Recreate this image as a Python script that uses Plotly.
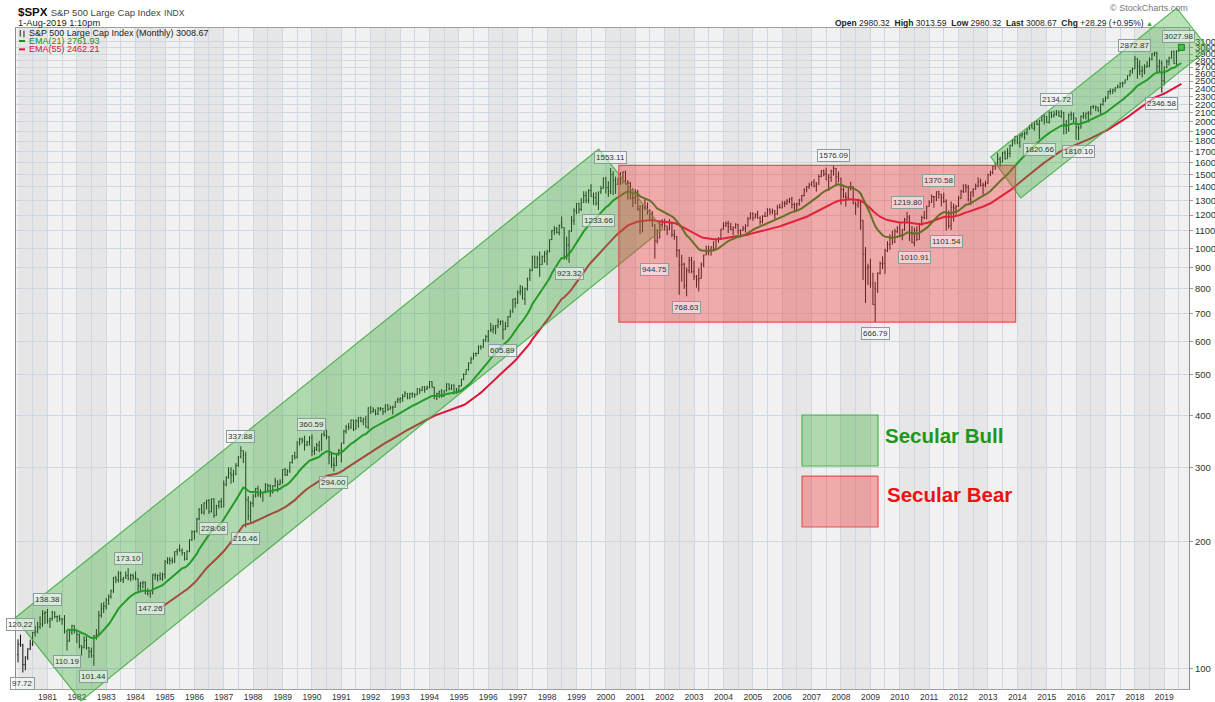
import numpy as np
import pandas as pd
import plotly.graph_objects as go

# ---------------- data (monthly, Jan 1980 .. Aug 2019) ----------------
start_month = "1980-01-01"
first_open = 107.9
last_open = 2980.32

closes = [
    114.2, 113.7, 102.1, 106.3, 111.2, 114.2, 121.7, 122.4, 125.5, 127.5, 135.0, 135.8,
    129.6, 131.3, 136.0, 132.8, 132.6, 131.2, 130.9, 122.8, 116.2, 121.9, 126.4, 122.6,
    120.4, 113.1, 112.0, 116.4, 111.9, 109.6, 107.1, 119.5, 120.4, 133.7, 138.5, 140.6,
    145.3, 148.1, 153.0, 164.4, 162.4, 168.1, 162.6, 164.4, 166.1, 163.6, 166.4, 164.9,
    163.4, 157.1, 159.2, 160.1, 150.6, 153.2, 150.7, 166.7, 166.1, 166.1, 163.6, 167.2,
    179.6, 181.2, 180.7, 179.8, 189.6, 191.9, 190.9, 188.6, 182.1, 189.8, 202.2, 211.3,
    211.8, 226.9, 238.9, 235.5, 247.4, 250.8, 236.1, 252.9, 231.3, 244.0, 249.2, 242.2,
    274.1, 284.2, 291.7, 288.4, 290.1, 304.0, 318.7, 329.8, 321.8, 251.8, 230.3, 247.1,
    257.1, 267.8, 258.9, 261.3, 262.2, 273.5, 272.0, 261.5, 271.9, 279.0, 273.7, 277.7,
    297.5, 288.9, 294.9, 309.6, 320.5, 318.0, 346.1, 351.5, 349.2, 340.4, 346.0, 353.4,
    329.1, 331.9, 339.9, 330.8, 361.2, 358.0, 356.2, 322.6, 306.1, 304.0, 322.2, 330.2,
    343.9, 367.1, 375.2, 375.4, 389.8, 371.2, 387.8, 395.4, 387.9, 392.5, 375.2, 417.1,
    408.8, 412.7, 403.7, 415.0, 415.4, 408.1, 424.2, 414.0, 417.8, 418.7, 431.4, 435.7,
    438.8, 443.4, 451.7, 440.2, 450.2, 450.5, 448.1, 463.6, 458.9, 467.8, 461.8, 466.5,
    481.6, 467.1, 445.8, 450.9, 456.5, 444.3, 458.3, 475.5, 462.7, 472.4, 453.7, 459.3,
    470.4, 487.4, 500.7, 514.7, 533.4, 544.8, 562.1, 561.9, 584.4, 581.5, 605.4, 615.9,
    636.0, 640.4, 645.5, 654.2, 669.1, 670.6, 640.0, 652.0, 687.3, 705.3, 757.0, 740.7,
    786.2, 790.8, 757.1, 801.3, 848.3, 885.1, 954.3, 899.5, 947.3, 914.6, 955.4, 970.4,
    980.3, 1049.3, 1101.8, 1111.8, 1090.8, 1133.8, 1120.7, 957.3, 1017.0, 1098.7, 1163.6, 1229.2,
    1279.6, 1238.3, 1286.4, 1335.2, 1301.8, 1372.7, 1328.7, 1320.4, 1282.7, 1362.9, 1388.9, 1469.3,
    1394.5, 1366.4, 1498.6, 1452.4, 1420.6, 1454.6, 1430.8, 1517.7, 1436.5, 1429.4, 1315.0, 1320.3,
    1366.0, 1239.9, 1160.3, 1249.5, 1255.8, 1224.4, 1211.2, 1133.6, 1040.9, 1059.8, 1139.5, 1148.1,
    1130.2, 1106.7, 1147.4, 1076.9, 1067.1, 989.8, 911.6, 916.1, 815.3, 885.8, 936.3, 879.8,
    855.7, 841.2, 848.2, 916.9, 963.6, 974.5, 990.3, 1008.0, 996.0, 1050.7, 1058.2, 1111.9,
    1131.1, 1144.9, 1126.2, 1107.3, 1120.7, 1140.8, 1101.7, 1104.2, 1114.6, 1130.2, 1173.8, 1211.9,
    1181.3, 1203.6, 1180.6, 1156.9, 1191.5, 1191.3, 1234.2, 1220.3, 1228.8, 1207.0, 1249.5, 1248.3,
    1280.1, 1280.7, 1294.8, 1310.6, 1270.1, 1270.2, 1276.7, 1303.8, 1335.9, 1377.9, 1400.6, 1418.3,
    1438.2, 1406.8, 1420.9, 1482.4, 1530.6, 1503.4, 1455.3, 1474.0, 1526.8, 1549.4, 1481.1, 1468.4,
    1378.6, 1330.6, 1322.7, 1385.6, 1400.4, 1280.0, 1267.4, 1282.8, 1166.4, 968.8, 896.2, 903.3,
    825.9, 735.1, 797.9, 872.8, 919.1, 919.3, 987.5, 1020.6, 1057.1, 1036.2, 1095.6, 1115.1,
    1073.9, 1104.5, 1169.4, 1186.7, 1089.4, 1030.7, 1101.6, 1049.3, 1141.2, 1183.3, 1180.6, 1257.6,
    1286.1, 1327.2, 1325.8, 1363.6, 1345.2, 1320.6, 1292.3, 1218.9, 1131.4, 1253.3, 1247.0, 1257.6,
    1312.4, 1365.7, 1408.5, 1397.9, 1310.3, 1362.2, 1379.3, 1406.6, 1440.7, 1412.2, 1416.2, 1426.2,
    1498.1, 1514.7, 1569.2, 1597.6, 1630.7, 1606.3, 1685.7, 1633.0, 1681.6, 1756.5, 1805.8, 1848.4,
    1782.6, 1859.5, 1872.3, 1884.0, 1923.6, 1960.2, 1930.7, 2003.4, 1972.3, 2018.1, 2067.6, 2058.9,
    1995.0, 2104.5, 2067.9, 2085.5, 2107.4, 2063.1, 2103.8, 1972.2, 1920.0, 2079.4, 2080.4, 2043.9,
    1940.2, 1932.2, 2059.7, 2065.3, 2097.0, 2098.9, 2173.6, 2171.0, 2168.3, 2126.2, 2198.8, 2238.8,
    2278.9, 2363.6, 2362.7, 2384.2, 2411.8, 2423.4, 2470.3, 2471.7, 2519.4, 2575.3, 2647.6, 2673.6,
    2823.8, 2713.8, 2640.9, 2648.1, 2705.3, 2718.4, 2816.3, 2901.5, 2914.0, 2711.7, 2760.2, 2506.9,
    2704.1, 2784.5, 2834.4, 2945.8, 2752.1, 2941.8, 2980.4, 3008.7,
]

highs = [
    117.2, 120.2, 114.3, 106.8, 111.6, 117.0, 122.0, 126.0, 129.0, 133.0, 137.5, 137.0,
    138.4, 132.0, 137.0, 136.5, 133.5, 134.0, 131.5, 133.9, 123.0, 123.5, 127.0, 126.5,
    122.6, 121.0, 113.5, 119.3, 119.0, 112.3, 112.0, 120.0, 124.0, 137.0, 143.0, 143.7,
    147.0, 150.0, 154.0, 165.0, 166.0, 170.5, 170.0, 165.0, 170.0, 173.1, 168.0, 168.0,
    170.0, 163.5, 160.5, 161.5, 161.0, 155.0, 153.5, 168.0, 168.5, 167.5, 169.2, 169.0,
    181.0, 183.9, 184.0, 183.5, 190.0, 192.5, 197.0, 193.0, 189.0, 191.0, 203.0, 213.0,
    213.0, 228.0, 240.5, 246.0, 248.5, 252.0, 253.0, 254.0, 254.0, 245.0, 251.0, 254.0,
    280.0, 287.0, 301.0, 301.0, 297.0, 308.0, 320.0, 337.9, 330.0, 328.0, 257.0, 250.0,
    260.0, 269.0, 272.0, 267.0, 263.0, 276.0, 275.0, 274.0, 273.0, 284.0, 280.0, 282.0,
    298.0, 300.0, 298.0, 310.0, 322.0, 328.0, 347.0, 354.0, 354.0, 358.0, 348.0, 357.0,
    360.6, 337.0, 344.0, 348.0, 362.0, 367.0, 369.8, 357.0, 325.0, 318.0, 324.0, 333.0,
    344.0, 370.0, 380.0, 384.0, 391.0, 391.0, 392.0, 397.0, 397.0, 395.0, 399.0, 418.0,
    421.0, 418.0, 413.0, 419.0, 419.0, 417.0, 425.0, 425.0, 422.0, 422.0, 432.0, 441.0,
    442.0, 450.0, 457.0, 452.0, 453.0, 454.0, 451.0, 464.0, 464.0, 469.0, 470.0, 471.0,
    483.0, 482.0, 468.0, 453.0, 458.0, 462.0, 459.0, 477.0, 476.0, 474.0, 474.0, 465.0,
    472.0, 489.0, 504.0, 515.0, 535.0, 552.0, 564.0, 564.0, 587.0, 588.0, 608.0, 622.0,
    638.0, 665.0, 657.0, 657.0, 681.0, 673.0, 673.0, 668.0, 690.0, 714.0, 758.0, 762.0,
    794.0, 818.0, 814.0, 806.0, 851.0, 896.0, 961.0, 961.0, 960.0, 983.0, 962.0, 986.0,
    992.0, 1051.0, 1106.0, 1130.0, 1123.0, 1139.0, 1190.0, 1122.0, 1066.0, 1104.0, 1193.0, 1245.0,
    1280.0, 1283.0, 1317.0, 1367.0, 1367.0, 1383.0, 1421.0, 1357.0, 1361.0, 1364.0, 1408.0, 1474.0,
    1478.0, 1444.0, 1553.1, 1527.0, 1481.0, 1474.0, 1517.0, 1525.0, 1531.0, 1454.0, 1438.0, 1390.0,
    1384.0, 1377.0, 1267.0, 1269.0, 1316.0, 1286.0, 1239.0, 1226.0, 1142.0, 1111.0, 1163.0, 1173.0,
    1176.0, 1131.0, 1173.0, 1148.0, 1107.0, 1070.0, 994.0, 965.0, 924.0, 900.0, 954.0, 954.0,
    935.0, 864.0, 896.0, 925.0, 966.0, 1015.0, 1015.0, 1011.0, 1040.0, 1054.0, 1063.0, 1112.0,
    1155.0, 1159.0, 1163.0, 1150.0, 1128.0, 1147.0, 1141.0, 1108.0, 1131.0, 1141.0, 1188.0, 1218.0,
    1217.0, 1212.0, 1229.0, 1192.0, 1199.0, 1219.0, 1246.0, 1245.0, 1243.0, 1233.0, 1270.0, 1276.0,
    1295.0, 1297.0, 1310.0, 1318.0, 1326.0, 1285.0, 1283.0, 1312.0, 1340.0, 1390.0, 1407.0, 1432.0,
    1441.0, 1461.0, 1438.0, 1499.0, 1535.0, 1541.0, 1556.0, 1503.0, 1539.0, 1576.1, 1553.0, 1523.0,
    1471.0, 1396.0, 1359.0, 1397.0, 1440.0, 1405.0, 1292.0, 1313.0, 1303.0, 1167.0, 1007.0, 919.0,
    944.0, 875.0, 832.0, 876.0, 930.0, 957.0, 997.0, 1040.0, 1080.0, 1102.0, 1113.0, 1130.0,
    1150.0, 1112.0, 1181.0, 1219.8, 1200.0, 1131.0, 1120.0, 1129.0, 1150.0, 1196.0, 1227.0, 1263.0,
    1302.0, 1344.0, 1332.0, 1367.0, 1370.6, 1346.0, 1357.0, 1308.0, 1230.0, 1293.0, 1277.0, 1269.0,
    1333.0, 1378.0, 1420.0, 1422.0, 1415.0, 1364.0, 1392.0, 1426.0, 1475.0, 1465.0, 1434.0, 1448.0,
    1504.0, 1530.0, 1570.0, 1598.0, 1688.0, 1654.0, 1698.0, 1710.0, 1730.0, 1765.0, 1814.0, 1849.0,
    1850.0, 1868.0, 1884.0, 1897.0, 1925.0, 1968.0, 1992.0, 2006.0, 2019.0, 2019.0, 2075.0, 2093.0,
    2065.0, 2120.0, 2118.0, 2126.0, 2134.7, 2130.0, 2133.0, 2113.0, 2021.0, 2094.0, 2117.0, 2104.0,
    2044.0, 1962.0, 2073.0, 2111.0, 2103.0, 2121.0, 2178.0, 2194.0, 2188.0, 2170.0, 2214.0, 2278.0,
    2301.0, 2372.0, 2401.0, 2399.0, 2419.0, 2454.0, 2484.0, 2491.0, 2520.0, 2582.0, 2657.0, 2695.0,
    2872.9, 2836.0, 2801.0, 2718.0, 2743.0, 2791.0, 2848.0, 2917.0, 2941.0, 2940.0, 2815.0, 2800.0,
    2708.0, 2814.0, 2861.0, 2950.0, 2954.0, 2964.0, 3028.0, 3013.6,
]

lows = [
    103.3, 112.5, 97.7, 98.9, 104.7, 110.5, 113.0, 119.0, 121.0, 124.0, 125.5, 127.5,
    127.8, 124.7, 129.7, 131.5, 128.8, 129.2, 127.0, 121.0, 110.2, 115.5, 120.0, 121.0,
    114.8, 111.5, 107.3, 111.5, 110.8, 105.8, 106.0, 101.4, 117.0, 120.0, 132.0, 135.3,
    138.0, 141.5, 146.5, 151.0, 159.5, 160.0, 160.5, 159.5, 163.0, 162.0, 161.0, 162.0,
    162.0, 152.5, 153.5, 155.0, 150.0, 149.0, 147.3, 150.0, 162.5, 161.0, 162.0, 161.5,
    163.4, 177.0, 176.5, 177.5, 178.0, 185.5, 189.5, 185.5, 180.5, 181.0, 189.0, 201.0,
    202.5, 210.5, 225.0, 233.0, 232.0, 239.0, 233.0, 235.0, 228.1, 231.0, 240.0, 241.0,
    242.0, 271.0, 283.0, 275.0, 277.0, 288.0, 302.0, 316.0, 308.0, 216.5, 225.0, 223.0,
    242.0, 255.0, 256.0, 255.0, 249.0, 261.0, 263.0, 256.0, 261.0, 270.0, 263.0, 273.0,
    275.0, 287.0, 287.0, 292.0, 307.0, 314.0, 316.0, 339.0, 343.0, 330.0, 338.0, 339.0,
    320.0, 322.0, 329.0, 327.0, 330.0, 357.0, 351.0, 306.0, 300.0, 294.0, 303.0, 321.0,
    309.0, 342.0, 362.0, 369.0, 371.0, 367.0, 370.0, 374.0, 385.0, 379.0, 374.0, 371.0,
    403.0, 406.0, 400.0, 401.0, 410.0, 401.0, 406.0, 410.0, 413.0, 402.0, 417.0, 428.0,
    428.0, 431.0, 443.0, 437.0, 437.0, 441.0, 441.0, 447.0, 450.0, 457.0, 453.0, 460.0,
    464.0, 466.0, 437.0, 435.0, 440.0, 441.0, 444.0, 456.0, 459.0, 460.0, 449.0, 450.0,
    457.0, 469.0, 485.0, 500.0, 511.0, 531.0, 544.0, 552.0, 560.0, 573.0, 580.0, 598.0,
    597.0, 632.0, 627.0, 624.0, 645.0, 656.0, 605.9, 639.0, 649.0, 684.0, 703.0, 722.0,
    737.0, 773.0, 756.0, 733.0, 793.0, 836.0, 882.0, 896.0, 897.0, 855.0, 913.0, 924.0,
    912.0, 979.0, 1045.0, 1076.0, 1085.0, 1074.0, 1114.0, 939.0, 939.0, 923.3, 1094.0, 1136.0,
    1205.0, 1211.0, 1226.0, 1282.0, 1281.0, 1279.0, 1326.0, 1268.0, 1263.0, 1233.7, 1348.0, 1387.0,
    1350.0, 1325.0, 1346.0, 1339.0, 1348.0, 1420.0, 1416.0, 1430.0, 1419.0, 1305.0, 1308.0, 1254.0,
    1275.0, 1228.0, 1081.0, 1091.0, 1232.0, 1203.0, 1165.0, 1124.0, 944.8, 1026.0, 1055.0, 1124.0,
    1101.0, 1075.0, 1106.0, 1063.0, 1048.0, 952.0, 775.0, 833.0, 800.0, 768.6, 872.0, 872.0,
    840.0, 806.0, 789.0, 847.0, 902.0, 963.0, 962.0, 960.0, 990.0, 994.0, 1031.0, 1055.0,
    1106.0, 1124.0, 1087.0, 1105.0, 1076.0, 1113.0, 1078.0, 1060.0, 1099.0, 1090.0, 1127.0, 1173.0,
    1163.0, 1180.0, 1176.0, 1137.0, 1146.0, 1188.0, 1191.0, 1201.0, 1205.0, 1168.0, 1201.0, 1245.0,
    1245.0, 1253.0, 1268.0, 1280.0, 1245.0, 1219.0, 1224.0, 1262.0, 1290.0, 1327.0, 1360.0, 1385.0,
    1403.0, 1396.0, 1364.0, 1416.0, 1476.0, 1484.0, 1454.0, 1370.0, 1439.0, 1489.0, 1406.0, 1435.0,
    1270.0, 1317.0, 1257.0, 1312.0, 1373.0, 1272.0, 1200.0, 1249.0, 1107.0, 840.0, 741.0, 818.0,
    805.0, 734.0, 666.8, 783.0, 866.0, 892.0, 869.0, 979.0, 992.0, 1020.0, 1029.0, 1086.0,
    1071.0, 1045.0, 1101.0, 1160.0, 1040.0, 1028.0, 1010.9, 1040.0, 1049.0, 1131.0, 1173.0, 1173.0,
    1256.0, 1283.0, 1249.0, 1294.0, 1312.0, 1258.0, 1283.0, 1101.5, 1114.0, 1105.0, 1158.0, 1202.0,
    1254.0, 1312.0, 1354.0, 1358.0, 1292.0, 1267.0, 1325.0, 1378.0, 1396.0, 1403.0, 1343.0, 1398.0,
    1426.0, 1485.0, 1501.0, 1536.0, 1581.0, 1560.0, 1604.0, 1627.0, 1633.0, 1646.0, 1746.0, 1767.0,
    1770.0, 1737.0, 1834.0, 1815.0, 1860.0, 1915.0, 1930.0, 1905.0, 1964.0, 1820.7, 2001.0, 1972.0,
    1988.0, 1981.0, 2039.0, 2048.0, 2067.0, 2056.0, 2044.0, 1867.0, 1872.0, 1893.0, 2019.0, 1993.0,
    1812.0, 1810.1, 1931.0, 2034.0, 2026.0, 1992.0, 2074.0, 2147.0, 2120.0, 2115.0, 2084.0, 2187.0,
    2234.0, 2271.0, 2322.0, 2329.0, 2353.0, 2405.0, 2407.0, 2417.0, 2468.0, 2515.0, 2566.0, 2605.0,
    2672.0, 2533.0, 2585.0, 2553.0, 2595.0, 2692.0, 2699.0, 2803.0, 2865.0, 2604.0, 2631.0, 2346.6,
    2443.0, 2681.0, 2722.0, 2832.0, 2750.0, 2728.0, 2940.0, 2980.3,
]

# swing-point labels
label_months = ["1980-02", "1980-03", "1981-01", "1981-09", "1982-08", "1983-10", "1984-07",
                "1986-09", "1987-08", "1987-10", "1990-01", "1990-10", "1996-07", "1998-10",
                "1999-10", "2000-03", "2001-09", "2002-10", "2007-10", "2009-03", "2010-04",
                "2010-07", "2011-05", "2011-08", "2014-10", "2015-05", "2016-02", "2018-01",
                "2018-12", "2019-07"]
label_values = [120.22, 97.72, 138.38, 110.19, 101.44, 173.10, 147.26, 228.08, 337.88, 216.46,
                360.59, 294.00, 605.89, 923.32, 1233.66, 1553.11, 944.75, 768.63, 1576.09, 666.79,
                1219.80, 1010.91, 1370.58, 1101.54, 1820.66, 2134.72, 1810.10, 2872.87, 2346.58,
                3027.98]
label_sides = ["high", "low", "high", "low", "low", "high", "low", "low", "high", "low",
               "high", "low", "low", "low", "low", "high", "low", "low", "high", "low",
               "high", "low", "high", "low", "low", "high", "low", "high", "low", "high"]

y_ticks = [100, 200, 300, 400, 500, 600, 700, 800, 900, 1000, 1100, 1200, 1300, 1400, 1500,
           1600, 1700, 1800, 1900, 2000, 2100, 2200, 2300, 2400, 2500, 2600, 2700, 2800, 2900,
           3000, 3100]
x_tick_years = list(range(1981, 2020))

# drawn channels (date, price corners)
bull_channel_1_dates = ["1979-11-24", "1999-10-04", "2001-12-10", "1982-02-22"]
bull_channel_1_prices = [131.8, 1723.0, 1112.0, 83.6]
bull_channel_2_dates = ["2013-02-04", "2019-06-04", "2020-07-04", "2014-02-12"]
bull_channel_2_prices = [1650.0, 3734.0, 2982.0, 1318.0]
bear_box_dates = ["2000-06-10", "2013-12-10"]
bear_box_prices = [666.79, 1576.09]

# ---------------- derived ----------------
dates = pd.date_range(start_month, periods=len(closes), freq="MS")
opens = [first_open] + closes[:-1]
opens[-1] = last_open


def ema(values, n):
    out = [None] * len(values)
    a = 2.0 / (n + 1)
    e = float(np.mean(values[:n]))
    out[n - 1] = e
    for i in range(n, len(values)):
        e = a * values[i] + (1 - a) * e
        out[i] = e
    return out


ema21 = ema(closes, 21)
ema55 = ema(closes, 55)
ema21_start, ema55_start = 20, 58

X0 = pd.Timestamp("1979-12-07")
X1 = pd.Timestamp("2019-11-04")
Y0, Y1 = 1.9507, 3.5245


def px(d):
    return (pd.Timestamp(d) - X0) / (X1 - X0)


def py(v):
    return (np.log10(v) - Y0) / (Y1 - Y0)


def poly_path(ds, vs):
    pts = [f"{px(d):.5f},{py(v):.5f}" for d, v in zip(ds, vs)]
    return "M" + " L".join(pts) + " Z"


FONT = "Liberation Sans, Arial, sans-serif"
GREEN_FILL = "rgba(60,175,60,0.36)"
GREEN_LINE = "rgba(70,175,70,0.9)"
RED_FILL = "rgba(238,55,55,0.38)"
RED_LINE = "rgba(235,70,70,0.9)"

fig = go.Figure()

fig.add_trace(go.Ohlc(
    x=dates, open=opens, high=highs, low=lows, close=closes,
    increasing=dict(line=dict(color="#111111", width=1)),
    decreasing=dict(line=dict(color="#111111", width=1)),
    tickwidth=0.35, hoverinfo="skip", showlegend=False,
))
fig.add_trace(go.Scatter(
    x=dates[ema55_start:], y=ema55[ema55_start:], mode="lines",
    line=dict(color="#dc143c", width=2), hoverinfo="skip", showlegend=False,
))
fig.add_trace(go.Scatter(
    x=dates[ema21_start:], y=ema21[ema21_start:], mode="lines",
    line=dict(color="#17901a", width=2), hoverinfo="skip", showlegend=False,
))
fig.add_trace(go.Scatter(
    x=[dates[-1]], y=[closes[-1]], mode="markers",
    marker=dict(symbol="square", size=6, color="#3fcf3f", line=dict(color="#1a5a1a", width=1)),
    hoverinfo="skip", showlegend=False,
))

shapes = []
# alternating year bands
for yr in range(1980, 2020):
    if yr % 2 == 0:
        shapes.append(dict(type="rect", xref="x", yref="paper",
                           x0=f"{yr}-01-01", x1=f"{yr + 1}-01-01", y0=0, y1=1,
                           fillcolor="#e6e6e6", line=dict(width=0), layer="below"))
# channels
shapes.append(dict(type="path", xref="paper", yref="paper",
                   path=poly_path(bull_channel_1_dates, bull_channel_1_prices),
                   fillcolor=GREEN_FILL, line=dict(color=GREEN_LINE, width=1.2), layer="above"))
shapes.append(dict(type="path", xref="paper", yref="paper",
                   path=poly_path(bull_channel_2_dates, bull_channel_2_prices),
                   fillcolor=GREEN_FILL, line=dict(color=GREEN_LINE, width=1.2), layer="above"))
shapes.append(dict(type="rect", xref="paper", yref="paper",
                   x0=px(bear_box_dates[0]), x1=px(bear_box_dates[1]),
                   y0=py(bear_box_prices[0]), y1=py(bear_box_prices[1]),
                   fillcolor=RED_FILL, line=dict(color=RED_LINE, width=1.2), layer="above"))
# key boxes
shapes.append(dict(type="rect", xref="paper", yref="paper", x0=0.6701, x1=0.7349,
                   y0=0.3374, y1=0.4145, fillcolor=GREEN_FILL,
                   line=dict(color=GREEN_LINE, width=1.2), layer="above"))
shapes.append(dict(type="rect", xref="paper", yref="paper", x0=0.6701, x1=0.7349,
                   y0=0.2451, y1=0.3222, fillcolor=RED_FILL,
                   line=dict(color=RED_LINE, width=1.2), layer="above"))
# legend dashes
shapes.append(dict(type="line", xref="paper", yref="paper", x0=0.0026, x1=0.0077,
                   y0=0.9803, y1=0.9803, line=dict(color="#17901a", width=2)))
shapes.append(dict(type="line", xref="paper", yref="paper", x0=0.0026, x1=0.0077,
                   y0=0.9677, y1=0.9677, line=dict(color="#dc143c", width=2)))
# tiny ohlc icon
for xi, (ya, yb) in zip([0.0036, 0.0068], [(0.987, 0.997), (0.986, 0.996)]):
    shapes.append(dict(type="line", xref="paper", yref="paper", x0=xi, x1=xi,
                       y0=ya, y1=yb, line=dict(color="#222", width=1)))

annotations = []
for m, v, s in zip(label_months, label_values, label_sides):
    annotations.append(dict(
        x=f"{m}-01", y=np.log10(v), xref="x", yref="y", text=f"{v:.2f}",
        showarrow=False, yshift=10 if s == "high" else -11,
        font=dict(family=FONT, size=8, color="#333333"),
        bgcolor="rgba(248,250,250,0.55)", bordercolor="#8c9c9c", borderwidth=1, borderpad=1,
    ))

annotations += [
    dict(x=0.0, y=1.0247, xref="paper", yref="paper", xanchor="left", yanchor="middle",
         showarrow=False,
         text="<b>$SPX</b> <span style='font-size:9.5px;color:#444'>S&P 500 Large Cap Index</span>"
              " <span style='font-size:8.5px;color:#444'>INDX</span>",
         font=dict(family=FONT, size=11.5, color="#111")),
    dict(x=0.0, y=1.0076, xref="paper", yref="paper", xanchor="left", yanchor="middle",
         showarrow=False, text="1-Aug-2019 1:10pm",
         font=dict(family=FONT, size=9.3, color="#222")),
    dict(x=1.0009, y=1.0303, xref="paper", yref="paper", xanchor="right", yanchor="middle",
         showarrow=False, text="© StockCharts.com",
         font=dict(family=FONT, size=9, color="#777")),
    dict(x=0.6965, y=1.008, xref="paper", yref="paper", xanchor="left", yanchor="middle",
         showarrow=False,
         text="<b>Open</b> 2980.32  <b>High</b> 3013.59  <b>Low</b> 2980.32  "
              "<b>Last</b> 3008.67  <b>Chg</b> +28.29 (+0.95%) "
              "<span style='color:#22aa22;font-size:7px'>▲</span>",
         font=dict(family=FONT, size=8.5, color="#222")),
    dict(x=0.0094, y=0.992, xref="paper", yref="paper", xanchor="left", yanchor="middle",
         showarrow=False, text="S&P 500 Large Cap Index (Monthly) 3008.67",
         font=dict(family=FONT, size=9, color="#222")),
    dict(x=0.0094, y=0.9803, xref="paper", yref="paper", xanchor="left", yanchor="middle",
         showarrow=False, text="EMA(21) 2761.93",
         font=dict(family=FONT, size=9, color="#17901a")),
    dict(x=0.0094, y=0.9677, xref="paper", yref="paper", xanchor="left", yanchor="middle",
         showarrow=False, text="EMA(55) 2462.21",
         font=dict(family=FONT, size=9, color="#dc143c")),
    dict(x=0.7391, y=0.3828, xref="paper", yref="paper", xanchor="left", yanchor="middle",
         showarrow=False, text="<b>Secular Bull</b>",
         font=dict(family=FONT, size=20.5, color="#1e961e")),
    dict(x=0.7408, y=0.2935, xref="paper", yref="paper", xanchor="left", yanchor="middle",
         showarrow=False, text="<b>Secular Bear</b>",
         font=dict(family=FONT, size=20.5, color="#ee1111")),
]

GRID = "#cfd7e1"
fig.update_layout(
    width=1215, height=702,
    margin=dict(l=16, r=26, t=28, b=13, autoexpand=False),
    paper_bgcolor="white", plot_bgcolor="#f1f1f1",
    showlegend=False, font=dict(family=FONT),
    shapes=shapes, annotations=annotations,
    xaxis=dict(
        type="date", range=[X0, X1], rangeslider=dict(visible=False),
        tickmode="array", tickvals=[f"{y}-01-01" for y in x_tick_years],
        ticktext=[str(y) for y in x_tick_years],
        showgrid=True, gridcolor=GRID, gridwidth=1,
        minor=dict(tickmode="linear", tick0="1980-07-01", dtick="M12",
                   showgrid=True, gridcolor=GRID, gridwidth=1, ticks=""),
        ticks="", showline=True, linecolor="#a0a0a0", mirror=True, zeroline=False,
        tickfont=dict(family=FONT, size=8.5, color="#333"),
    ),
    yaxis=dict(
        type="log", side="right", range=[Y0, Y1],
        tickmode="array", tickvals=y_ticks, ticktext=[str(t) for t in y_ticks],
        showgrid=True, gridcolor=GRID, gridwidth=1,
        ticks="outside", ticklen=3, tickcolor="#999",
        showline=True, linecolor="#8a8a8a", mirror=True, zeroline=False,
        tickfont=dict(family=FONT, size=9.5, color="#333"),
    ),
)

fig.write_html(
    "out.html",
    config={"displayModeBar": False, "staticPlot": True},
    post_script="document.body.style.margin='0px';document.body.style.overflow='hidden';",
)
